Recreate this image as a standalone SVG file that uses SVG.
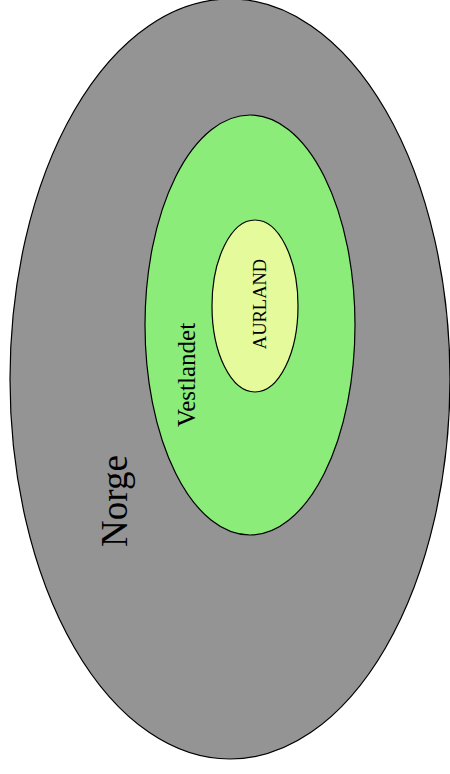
<svg xmlns="http://www.w3.org/2000/svg" width="450" height="774" viewBox="0 0 450 774">
<style>
.e{stroke:#000;stroke-width:1.2}
.t{font-family:"Liberation Serif","Times New Roman",serif;fill:#000;text-anchor:middle}
</style>
<rect width="450" height="774" fill="#fff"/>
<g id="norge">
<ellipse class="e" cx="230" cy="379" rx="220" ry="380" fill="#949494"/>
<text class="t" font-size="37" transform="translate(127,501) rotate(-90)">Norge</text>
</g>
<g id="vestlandet">
<ellipse class="e" cx="250" cy="325" rx="105" ry="210" fill="#8bec7a"/>
<text class="t" font-size="25" transform="translate(195,375) rotate(-90)">Vestlandet</text>
</g>
<g id="aurland">
<ellipse class="e" cx="255" cy="306" rx="43" ry="86" fill="#e5fa9b"/>
<text class="t" font-size="18.5" transform="translate(266,304) rotate(-90)">AURLAND</text>
</g>
<g id="connectors"/>
</svg>
